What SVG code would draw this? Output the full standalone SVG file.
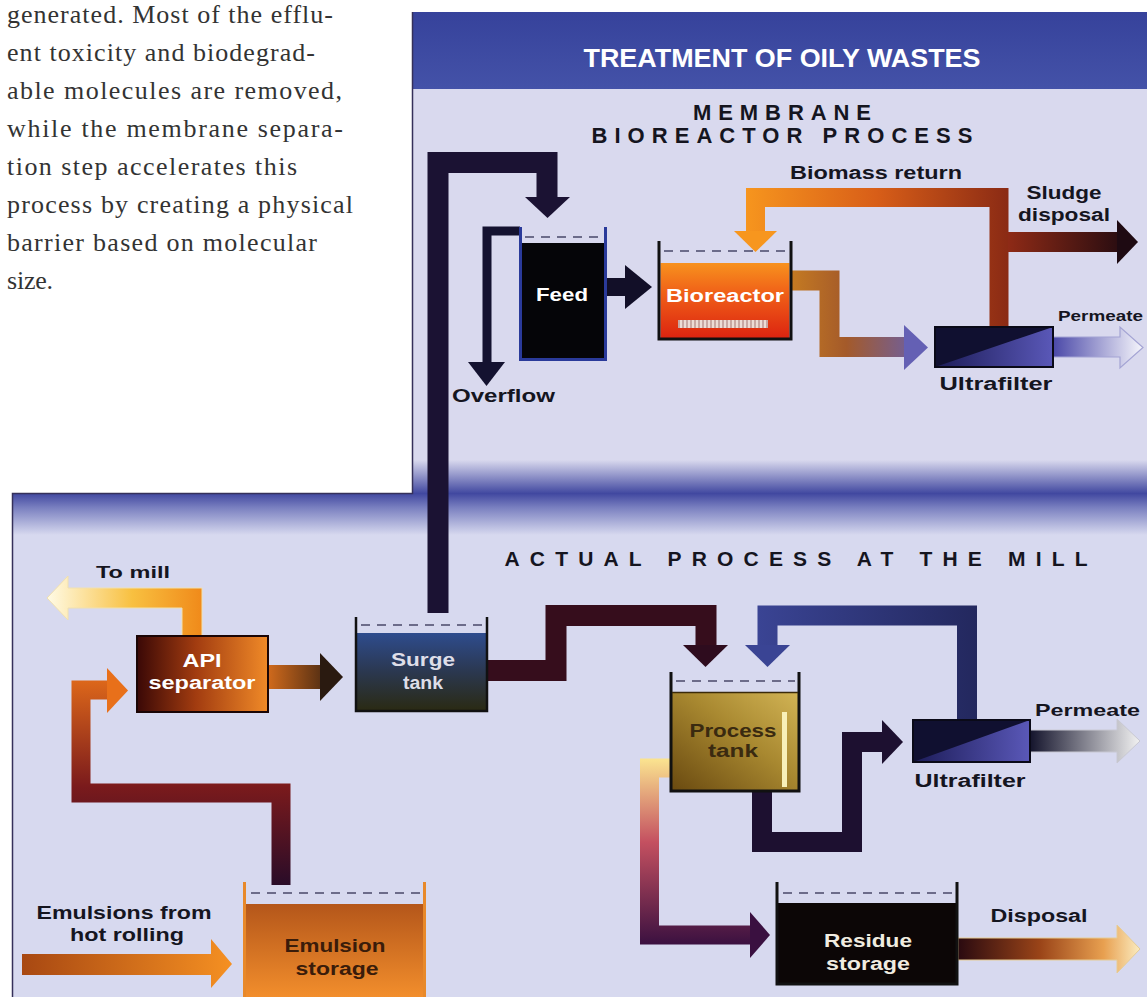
<svg xmlns="http://www.w3.org/2000/svg" width="1147" height="997" viewBox="0 0 1147 997">
<defs>
  <linearGradient id="bandUp" x1="0" y1="0" x2="0" y2="1"><stop offset="0" stop-color="#d9d9ee"/><stop offset="1" stop-color="#3f469f"/></linearGradient>
  <linearGradient id="bandDn" x1="0" y1="0" x2="0" y2="1"><stop offset="0" stop-color="#3f469f"/><stop offset="0.35" stop-color="#7a80c0"/><stop offset="1" stop-color="#d7d9ef"/></linearGradient>
  <linearGradient id="titleG" x1="0" y1="0" x2="0" y2="1"><stop offset="0" stop-color="#36429b"/><stop offset="1" stop-color="#4452a8"/></linearGradient>
  <linearGradient id="bioG" x1="0" y1="0" x2="0" y2="1"><stop offset="0" stop-color="#f7921e"/><stop offset="0.4" stop-color="#f06018"/><stop offset="1" stop-color="#dc2410"/></linearGradient>
  <linearGradient id="ufG" x1="0" y1="0" x2="1" y2="0"><stop offset="0" stop-color="#1c1c58"/><stop offset="1" stop-color="#5a58b8"/></linearGradient>
  <linearGradient id="procG" x1="0" y1="1" x2="1" y2="0"><stop offset="0" stop-color="#6a4a10"/><stop offset="0.55" stop-color="#a88830"/><stop offset="1" stop-color="#d2b455"/></linearGradient>
  <linearGradient id="surgeG" x1="0" y1="0" x2="0" y2="1"><stop offset="0" stop-color="#2e4c8e"/><stop offset="0.5" stop-color="#2b3850"/><stop offset="1" stop-color="#2a2a14"/></linearGradient>
  <linearGradient id="apiG" x1="0" y1="0" x2="1" y2="0"><stop offset="0" stop-color="#3a0806"/><stop offset="0.45" stop-color="#a23c10"/><stop offset="1" stop-color="#f08a28"/></linearGradient>
  <linearGradient id="emuG" x1="0" y1="0" x2="0" y2="1"><stop offset="0" stop-color="#b4561a"/><stop offset="1" stop-color="#f28e2c"/></linearGradient>
  <linearGradient id="b2uG" gradientUnits="userSpaceOnUse" x1="792" y1="0" x2="928" y2="0"><stop offset="0" stop-color="#c47a22"/><stop offset="0.4" stop-color="#a45a2a"/><stop offset="1" stop-color="#6460b4"/></linearGradient>
  <linearGradient id="bioRetG" gradientUnits="userSpaceOnUse" x1="744" y1="0" x2="1009" y2="0"><stop offset="0" stop-color="#f7961e"/><stop offset="0.5" stop-color="#d85e18"/><stop offset="1" stop-color="#8a2a14"/></linearGradient>
  <linearGradient id="sludgeG" gradientUnits="userSpaceOnUse" x1="1008" y1="0" x2="1138" y2="0"><stop offset="0" stop-color="#8e2a16"/><stop offset="1" stop-color="#1a0810"/></linearGradient>
  <linearGradient id="perm1G" gradientUnits="userSpaceOnUse" x1="1053" y1="0" x2="1143" y2="0"><stop offset="0" stop-color="#4a48a8"/><stop offset="1" stop-color="#f6f6fc"/></linearGradient>
  <linearGradient id="toMillG" gradientUnits="userSpaceOnUse" x1="202" y1="0" x2="47" y2="0"><stop offset="0" stop-color="#f08a1a"/><stop offset="0.45" stop-color="#f8c040"/><stop offset="1" stop-color="#fffbe6"/></linearGradient>
  <linearGradient id="emuApiG" gradientUnits="userSpaceOnUse" x1="0" y1="884" x2="0" y2="668"><stop offset="0" stop-color="#2a0c28"/><stop offset="0.45" stop-color="#7a1a1c"/><stop offset="1" stop-color="#e8701a"/></linearGradient>
  <linearGradient id="apiSurgeG" gradientUnits="userSpaceOnUse" x1="268" y1="0" x2="343" y2="0"><stop offset="0" stop-color="#d06a1c"/><stop offset="1" stop-color="#2a1a10"/></linearGradient>
  <linearGradient id="blueRetG" gradientUnits="userSpaceOnUse" x1="757" y1="0" x2="977" y2="0"><stop offset="0" stop-color="#3a4494"/><stop offset="1" stop-color="#23285e"/></linearGradient>
  <linearGradient id="resInG" gradientUnits="userSpaceOnUse" x1="0" y1="758" x2="0" y2="945"><stop offset="0" stop-color="#fbe590"/><stop offset="0.45" stop-color="#c45060"/><stop offset="1" stop-color="#3a1040"/></linearGradient>
  <linearGradient id="perm2G" gradientUnits="userSpaceOnUse" x1="1030" y1="0" x2="1140" y2="0"><stop offset="0" stop-color="#14142c"/><stop offset="1" stop-color="#f2f2f2"/></linearGradient>
  <linearGradient id="dispG" gradientUnits="userSpaceOnUse" x1="958" y1="0" x2="1140" y2="0"><stop offset="0" stop-color="#2a0a10"/><stop offset="0.45" stop-color="#9a4418"/><stop offset="0.8" stop-color="#e8a050"/><stop offset="1" stop-color="#fbecc0"/></linearGradient>
  <linearGradient id="emuInG" gradientUnits="userSpaceOnUse" x1="22" y1="0" x2="232" y2="0"><stop offset="0" stop-color="#a84812"/><stop offset="1" stop-color="#f59022"/></linearGradient>
  <pattern id="stripes" width="4" height="8" patternUnits="userSpaceOnUse"><rect width="4" height="8" fill="#c8a8a4"/><rect width="2" height="8" fill="#ecdcd6"/></pattern>
</defs>
<style>
  .lbl{font-family:"Liberation Sans",Arial,sans-serif;font-weight:bold;fill:#15151f}
  .wt{font-family:"Liberation Sans",Arial,sans-serif;font-weight:bold;fill:#ffffff}
  .body{font-family:"Liberation Serif","Times New Roman",serif;font-size:26px;fill:#333333}
  .dash{stroke:#6c6c8a;stroke-width:2;stroke-dasharray:9 7;fill:none}
  .wall{fill:none;stroke:#111;stroke-width:3}
  .pipe{fill:none;stroke-linejoin:miter;stroke-linecap:butt}
</style>
<rect width="1147" height="997" fill="#ffffff"/>

<g id="body-text">
  <text class="body" x="7" y="23" textLength="326">generated. Most of the efflu-</text>
  <text class="body" x="7" y="61" textLength="308">ent toxicity and biodegrad-</text>
  <text class="body" x="7" y="99" textLength="335">able molecules are removed,</text>
  <text class="body" x="7" y="137" textLength="336">while the membrane separa-</text>
  <text class="body" x="7" y="175" textLength="290">tion step accelerates this</text>
  <text class="body" x="7" y="213" textLength="346">process by creating a physical</text>
  <text class="body" x="7" y="251" textLength="310">barrier based on molecular</text>
  <text class="body" x="7" y="289" textLength="46">size.</text>
</g>

<g id="panels">
  <rect x="412" y="12" width="735" height="482" fill="#d9d9ee"/>
  <rect x="412" y="460" width="735" height="34" fill="url(#bandUp)"/>
  <rect x="12" y="493" width="1135" height="504" fill="#d7d9ef"/>
  <rect x="12" y="493" width="1135" height="42" fill="url(#bandDn)"/>
  <rect x="412" y="12" width="735" height="77" fill="url(#titleG)"/>
  <path d="M412.5,12 V493.5 H12.5 V997" fill="none" stroke="#35305a" stroke-width="1.5"/>
  <text x="782" y="67" text-anchor="middle" font-family="Liberation Sans, Arial, sans-serif" font-weight="bold" font-size="25" fill="#ffffff" textLength="397" lengthAdjust="spacingAndGlyphs">TREATMENT OF OILY WASTES</text>
  <text class="lbl" x="782" y="120" text-anchor="middle" font-size="22" textLength="178" lengthAdjust="spacing">MEMBRANE</text>
  <text class="lbl" x="782" y="143" text-anchor="middle" font-size="22" textLength="381" lengthAdjust="spacing">BIOREACTOR PROCESS</text>
  <text class="lbl" x="796" y="566" text-anchor="middle" font-size="21" textLength="583" lengthAdjust="spacing">ACTUAL PROCESS AT THE MILL</text>
</g>

<g id="connectors">
  <!-- surge tank to feed -->
  <path class="pipe" d="M438,613 V162.5 H547 V198" stroke="#1b1233" stroke-width="21"/>
  <polygon points="525,197 570,197 547.5,218" fill="#1b1233"/>
  <!-- overflow -->
  <path class="pipe" d="M520,231 H487 V363" stroke="#141230" stroke-width="9"/>
  <polygon points="468,362 505,362 486.5,386" fill="#141230"/>
  <!-- feed to bioreactor -->
  <rect x="607" y="278" width="19" height="18" fill="#120f28"/>
  <polygon points="625,265 625,309 652,287" fill="#120f28"/>
  <!-- bioreactor to ultrafilter -->
  <path class="pipe" d="M792,280.5 H829.5 V347 H905" stroke="url(#b2uG)" stroke-width="20"/>
  <polygon points="904,325 904,370 928,347.5" fill="#6460b4"/>
  <!-- biomass return -->
  <path class="pipe" d="M999,327 V197.5 H755.5 V232" stroke="url(#bioRetG)" stroke-width="19"/>
  <polygon points="734,231 777,231 755.5,252" fill="#f7961e"/>
  <!-- sludge disposal -->
  <rect x="1008" y="232" width="110" height="20" fill="url(#sludgeG)"/>
  <polygon points="1117,220 1117,264 1138,242" fill="#1e0a12"/>
  <!-- permeate upper -->
  <polygon points="1053,337 1120,337 1120,327 1143,347.5 1120,368 1120,357 1053,357" fill="url(#perm1G)" stroke="#a4a4d4" stroke-width="1.2"/>

  <!-- to mill -->
  <polygon points="202,636 202,588 68,588 68,576 47,598 68,620 68,608 182,608 182,636" fill="url(#toMillG)" stroke="#f0e0b0" stroke-width="1"/>
  <!-- emulsion storage to API -->
  <path class="pipe" d="M281,885 V793 H81 V690 H108" stroke="url(#emuApiG)" stroke-width="19"/>
  <polygon points="107,668 107,713 128,690.5" fill="#e8701a"/>
  <!-- API to surge -->
  <rect x="268" y="665" width="54" height="24" fill="url(#apiSurgeG)"/>
  <polygon points="320,653 320,701 343,677" fill="#2a1a10"/>
  <!-- surge to process -->
  <path class="pipe" d="M488,670.5 H556 V615.5 H706 V646" stroke="#360d1c" stroke-width="21"/>
  <polygon points="683,645 728,645 705.5,667" fill="#2e0c1e"/>
  <!-- ultrafilter return to process tank -->
  <path class="pipe" d="M967,720 V615.5 H767.5 V646" stroke="url(#blueRetG)" stroke-width="20"/>
  <polygon points="745,645 790,645 767.5,667" fill="#3a4494"/>
  <!-- process tank to ultrafilter -->
  <path class="pipe" d="M762,792 V842 H852 V742 H883" stroke="#1d1030" stroke-width="20"/>
  <polygon points="882,720 882,764 903,742" fill="#1d1030"/>
  <!-- process tank to residue -->
  <path class="pipe" d="M671,768 H649.5 V935 H751" stroke="url(#resInG)" stroke-width="19"/>
  <polygon points="750,912 750,958 770,935" fill="#3a1040"/>
  <!-- permeate lower -->
  <polygon points="1030,730 1117,730 1117,719 1140,741 1117,763 1117,752 1030,752" fill="url(#perm2G)" stroke="#c8c8d2" stroke-width="1"/>
  <!-- disposal -->
  <polygon points="958,938 1117,938 1117,925 1140,949 1117,973 1117,960 958,960" fill="url(#dispG)" stroke="#e6cc94" stroke-width="1"/>
  <!-- emulsions from hot rolling -->
  <polygon points="22,954 211,954 211,939 232,964 211,988 211,975 22,975" fill="url(#emuInG)"/>
</g>

<g id="feed">
  <rect x="522" y="243" width="82" height="115" fill="#050508"/>
  <path d="M520.5,227 V359.5 H605.5 V227" fill="none" stroke="#2a3a9a" stroke-width="3"/>
  <line class="dash" x1="525" y1="237" x2="602" y2="237"/>
  <text class="wt" x="562" y="301" text-anchor="middle" font-size="18" textLength="52" lengthAdjust="spacingAndGlyphs">Feed</text>
</g>

<g id="bioreactor">
  <rect x="660.5" y="263" width="129" height="75" fill="url(#bioG)"/>
  <path class="wall" d="M659,241 V339 H791 V241"/>
  <line class="dash" x1="664" y1="251" x2="786" y2="251"/>
  <rect x="678" y="320" width="90" height="8" fill="url(#stripes)"/>
  <text class="wt" x="725" y="302" text-anchor="middle" font-size="18" textLength="118" lengthAdjust="spacingAndGlyphs">Bioreactor</text>
</g>

<g id="ultrafilter-upper">
  <rect x="935" y="327" width="118" height="40" fill="#101030"/>
  <polygon points="935,367 1053,327 1053,367" fill="url(#ufG)"/>
  <rect x="935" y="327" width="118" height="40" fill="none" stroke="#0a0a18" stroke-width="2"/>
</g>

<g id="labels-upper">
  <text class="lbl" x="452" y="402" font-size="18" textLength="103" lengthAdjust="spacingAndGlyphs">Overflow</text>
  <text class="lbl" x="790" y="179" font-size="18" textLength="172" lengthAdjust="spacingAndGlyphs">Biomass return</text>
  <text class="lbl" x="1064" y="199" text-anchor="middle" font-size="18" textLength="75" lengthAdjust="spacingAndGlyphs">Sludge</text>
  <text class="lbl" x="1064" y="221" text-anchor="middle" font-size="18" textLength="92" lengthAdjust="spacingAndGlyphs">disposal</text>
  <text class="lbl" x="1058" y="321" font-size="15" textLength="85" lengthAdjust="spacingAndGlyphs">Permeate</text>
  <text class="lbl" x="996" y="390" text-anchor="middle" font-size="18" textLength="113" lengthAdjust="spacingAndGlyphs">Ultrafilter</text>
</g>

<g id="api-separator">
  <rect x="137" y="636" width="131" height="76" fill="url(#apiG)" stroke="#1a0505" stroke-width="2"/>
  <text class="wt" x="202" y="667" text-anchor="middle" font-size="18" textLength="39" lengthAdjust="spacingAndGlyphs">API</text>
  <text class="wt" x="202" y="689" text-anchor="middle" font-size="18" textLength="107" lengthAdjust="spacingAndGlyphs">separator</text>
</g>

<g id="surge-tank">
  <rect x="357" y="633" width="129" height="77" fill="url(#surgeG)"/>
  <path d="M356,617 V711 H487 V617" fill="none" stroke="#111" stroke-width="2.5"/>
  <line class="dash" x1="361" y1="625" x2="483" y2="625"/>
  <text class="wt" x="423" y="666" text-anchor="middle" font-size="18" style="fill:#dedee8" textLength="64" lengthAdjust="spacingAndGlyphs">Surge</text>
  <text class="wt" x="423" y="689" text-anchor="middle" font-size="18" style="fill:#dedee8" textLength="40" lengthAdjust="spacingAndGlyphs">tank</text>
</g>

<g id="process-tank">
  <rect x="672" y="692" width="126" height="98" fill="url(#procG)"/>
  <path class="wall" d="M671,672 V791 H799 V672"/>
  <line x1="672" y1="692.5" x2="798" y2="692.5" stroke="#3a2a0a" stroke-width="1.5"/>
  <line class="dash" x1="676" y1="681" x2="795" y2="681"/>
  <rect x="782" y="712" width="5" height="75" fill="#f8f0b8"/>
  <text class="lbl" x="733" y="737" text-anchor="middle" font-size="18" style="fill:#3a2a10" textLength="87" lengthAdjust="spacingAndGlyphs">Process</text>
  <text class="lbl" x="733" y="757" text-anchor="middle" font-size="18" style="fill:#3a2a10" textLength="50" lengthAdjust="spacingAndGlyphs">tank</text>
</g>

<g id="ultrafilter-lower">
  <rect x="913" y="720" width="117" height="42" fill="#101030"/>
  <polygon points="913,762 1030,720 1030,762" fill="url(#ufG)"/>
  <rect x="913" y="720" width="117" height="42" fill="none" stroke="#0a0a18" stroke-width="2"/>
</g>

<g id="emulsion-storage">
  <rect x="246" y="904" width="177" height="93" fill="url(#emuG)"/>
  <path d="M244.5,882 V997 M424.5,882 V997" fill="none" stroke="#e8892a" stroke-width="3"/>
  <line class="dash" x1="251" y1="893" x2="420" y2="893"/>
  <text class="lbl" x="335" y="952" text-anchor="middle" font-size="18" style="fill:#3a1c0a" textLength="101" lengthAdjust="spacingAndGlyphs">Emulsion</text>
  <text class="lbl" x="337" y="975" text-anchor="middle" font-size="18" style="fill:#3a1c0a" textLength="83" lengthAdjust="spacingAndGlyphs">storage</text>
</g>

<g id="residue-storage">
  <rect x="778" y="903" width="178" height="81" fill="#0c0606"/>
  <path class="wall" d="M777,882 V984 H957 V882"/>
  <line class="dash" x1="783" y1="893" x2="952" y2="893"/>
  <text class="wt" x="868" y="947" text-anchor="middle" font-size="18" style="fill:#f0ece0" textLength="88" lengthAdjust="spacingAndGlyphs">Residue</text>
  <text class="wt" x="868" y="970" text-anchor="middle" font-size="18" style="fill:#f0ece0" textLength="84" lengthAdjust="spacingAndGlyphs">storage</text>
</g>

<g id="labels-lower">
  <text class="lbl" x="96" y="578" font-size="17" textLength="74" lengthAdjust="spacingAndGlyphs">To mill</text>
  <text class="lbl" x="124" y="919" text-anchor="middle" font-size="18" textLength="175" lengthAdjust="spacingAndGlyphs">Emulsions from</text>
  <text class="lbl" x="127" y="941" text-anchor="middle" font-size="18" textLength="114" lengthAdjust="spacingAndGlyphs">hot rolling</text>
  <text class="lbl" x="1035" y="716" font-size="17" textLength="105" lengthAdjust="spacingAndGlyphs">Permeate</text>
  <text class="lbl" x="970" y="787" text-anchor="middle" font-size="18" textLength="111" lengthAdjust="spacingAndGlyphs">Ultrafilter</text>
  <text class="lbl" x="1039" y="922" text-anchor="middle" font-size="18" textLength="97" lengthAdjust="spacingAndGlyphs">Disposal</text>
</g>
</svg>
